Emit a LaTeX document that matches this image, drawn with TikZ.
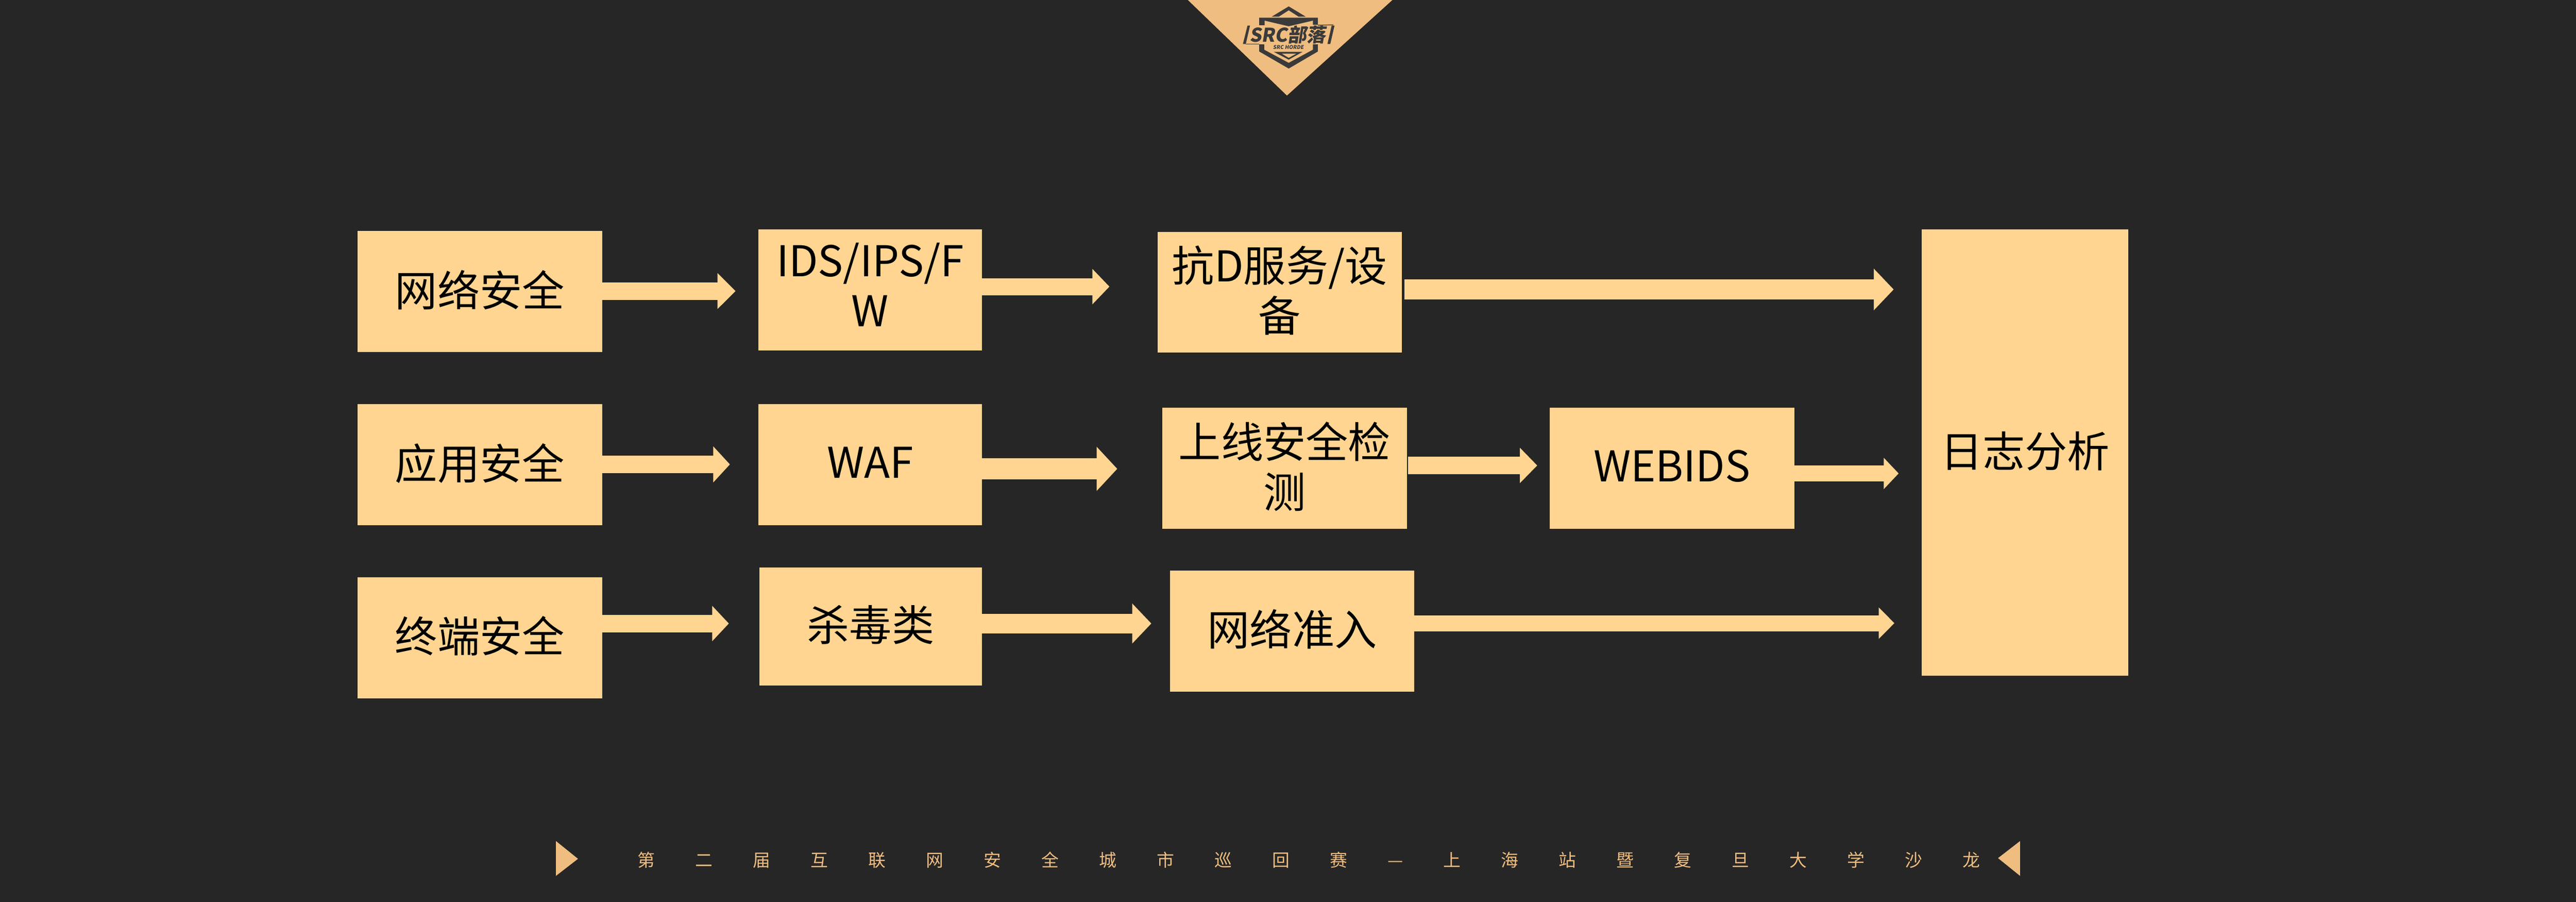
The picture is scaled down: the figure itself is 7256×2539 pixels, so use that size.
\documentclass[tikz,border=0pt]{standalone}
\usepackage{fontspec}
\usetikzlibrary{arrows.meta}
\setmainfont{Noto Sans CJK SC}
\newfontfamily\footfont[LetterSpace=230.5]{Noto Sans CJK SC}
\definecolor{pagebg}{HTML}{262626}
\definecolor{boxbg}{HTML}{FFD591}
\definecolor{trim}{HTML}{EFBD80}
\definecolor{badge}{HTML}{3A3A3A}
\tikzset{
  box/.style={fill=boxbg,text=black,inner sep=0pt,anchor=north west,align=center,text depth=2.7pt,
    minimum width=3.445cm,minimum height=1.705cm,font=\fontsize{17}{20}\selectfont},
  flow/.style n args={3}{draw=boxbg,line width=#1cm,shorten <=-.02cm,-{Triangle[length=#2cm,width=#3cm]}},
  badgetext/.style={text=badge,inner sep=0pt,xslant=0.16}
}
\begin{document}
\begin{tikzpicture}[x=0.005cm,y=-0.005cm]
 \fill[pagebg](0,0) rectangle (7256,2539);
 % top badge
 \fill[trim](3346,0)--(3922,0)--(3625,269)--cycle;
 \fill[badge](3630,18)--(3678,47)--(3658,47)--(3630,29)--(3602,47)--(3582,47)--cycle;
 \fill[badge](3547,50)--(3712,50)--(3712,70)--(3698,70)--(3698,58)--(3630,74)--(3562,58)--(3562,71)--(3547,71)--cycle;
 \fill[badge](3547,125)--(3561,125)--(3561,140)--(3630,177)--(3698,140)--(3698,125)--(3712,125)--(3712,145)--(3630,193)--(3547,145)--cycle;
 \fill[badge,even odd rule](3588,146)--(3669,146)--(3630,168)--cycle (3610,151)--(3652,151)--(3630,163)--cycle;
 \fill[badge](3514,72)--(3521,72)--(3509,124)--(3501,124)--cycle;
 \fill[badge](3751,72)--(3759,72)--(3747,124)--(3739,124)--cycle;
 \draw[badge,line width=0.3pt](3712,71)--(3756,70);
 \draw[badge,line width=0.3pt](3509,124)--(3547,124);
 \node[badgetext,font=\fontsize{7.6}{8}\bfseries\selectfont](logotitle) at (3630,98){SRC部落};
 \node[badgetext,font=\fontsize{2.1}{3}\bfseries\selectfont](logosub) at (3630,133){SRC HORDE};
 % left column
 \node[box](netsec) at (1006,649){网络安全};
 \node[box](appsec) at (1006,1137){应用安全};
 \node[box](endsec) at (1006,1624){终端安全};
 % second column
 \node[box,minimum width=3.15cm,text depth=4.2pt](idsfw) at (2135,645){IDS/IPS/F\\W};
 \node[box,minimum width=3.15cm,text depth=2pt](waf) at (2135,1137){WAF};
 \node[box,minimum width=3.135cm,minimum height=1.665cm](antivirus) at (2138,1596){杀毒类};
 % third column
 \node[box](antid) at (3259,651){抗D服务/设\\备};
 \node[box](online) at (3273,1147){上线安全检\\测};
 \node[box](access) at (3294,1605){网络准入};
 \node[box,text depth=2pt](webids) at (4364,1147){WEBIDS};
 \node[box,minimum width=2.91cm,minimum height=6.285cm](logs) at (5412,645){日志分析};
 % arrow tips
 \coordinate (netsecTip) at (2072,819.5);
 \coordinate (appsecTip) at (2056,1307.5);
 \coordinate (endsecTip) at (2053,1755.5);
 \coordinate (idsfwTip) at (3125,807);
 \coordinate (wafTip) at (3147,1320);
 \coordinate (antivirusTip) at (3243,1755.5);
 \coordinate (antidTip) at (5334,815);
 \coordinate (onlineTip) at (4330,1310.5);
 \coordinate (accessTip) at (5336,1754.5);
 \coordinate (webidsTip) at (5348,1333);
 % arrows
 \draw[flow={.245}{.255}{.49}](netsec.east |- netsecTip)--(netsecTip);
 \draw[flow={.245}{.235}{.495}](appsec.east |- appsecTip)--(appsecTip);
 \draw[flow={.245}{.235}{.485}](endsec.east |- endsecTip)--(endsecTip);
 \draw[flow={.24}{.24}{.485}](idsfw.east |- idsfwTip)--(idsfwTip);
 \draw[flow={.30}{.29}{.605}](waf.east |- wafTip)--(wafTip);
 \draw[flow={.275}{.27}{.55}](antivirus.east |- antivirusTip)--(antivirusTip);
 \draw[flow={.285}{.28}{.57},shorten <=.03cm](antid.east |- antidTip)--(antidTip);
 \draw[flow={.245}{.245}{.485},shorten <=.01cm](online.east |- onlineTip)--(onlineTip);
 \draw[flow={.225}{.22}{.43}](access.east |- accessTip)--(accessTip);
 \draw[flow={.22}{.21}{.43}](webids.east |- webidsTip)--(webidsTip);
 % footer
 \fill[trim](1566,2368)--(1628,2418)--(1566,2466)--cycle;
 \fill[trim](5690,2368)--(5628,2416)--(5690,2466)--cycle;
 \node[text=trim,inner sep=0pt,anchor=west,font=\fontsize{7}{8}\footfont](footer) at (1795,2421){第二届互联网安全城市巡回赛—上海站暨复旦大学沙龙};
\end{tikzpicture}
\end{document}
